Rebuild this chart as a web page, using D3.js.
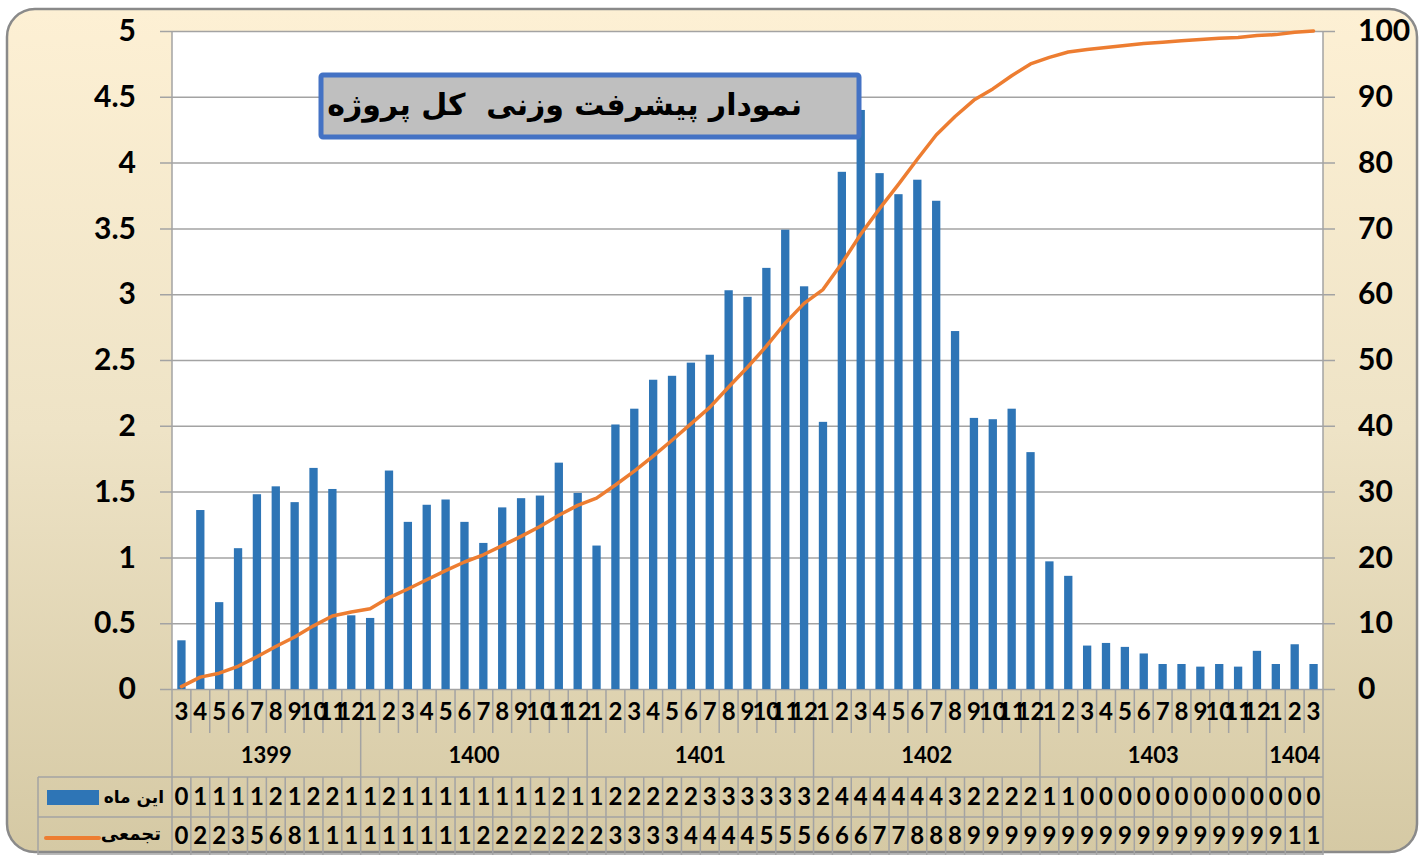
<!DOCTYPE html>
<html>
<head>
<meta charset="utf-8">
<script src="https://cdnjs.cloudflare.com/ajax/libs/d3/7.8.5/d3.min.js"></script>
<style>
body { margin: 0; background: #fff; }
svg { display: block; }
</style>
</head>
<body>
<script>
////////////////
// Data
////////////////

var yearLabels = ["1399", "1400", "1401", "1402", "1403", "1404"];
var yearMonths = [
    [3, 4, 5, 6, 7, 8, 9, 10, 11, 12],
    [1, 2, 3, 4, 5, 6, 7, 8, 9, 10, 11, 12],
    [1, 2, 3, 4, 5, 6, 7, 8, 9, 10, 11, 12],
    [1, 2, 3, 4, 5, 6, 7, 8, 9, 10, 11, 12],
    [1, 2, 3, 4, 5, 6, 7, 8, 9, 10, 11, 12],
    [1, 2, 3]
];

// monthly progress (%), one value per month
var monthly = [
    0.37, 1.36, 0.66, 1.07, 1.48, 1.54, 1.42, 1.68, 1.52, 0.56,
    0.54, 1.66, 1.27, 1.40, 1.44, 1.27, 1.11, 1.38, 1.45, 1.47, 1.72, 1.49,
    1.09, 2.01, 2.13, 2.35, 2.38, 2.48, 2.54, 3.03, 2.98, 3.20, 3.49, 3.06,
    2.03, 3.93, 4.40, 3.92, 3.76, 3.87, 3.71, 2.72, 2.06, 2.05, 2.13, 1.80,
    0.97, 0.86, 0.33, 0.35, 0.32, 0.27, 0.19, 0.19, 0.17, 0.19, 0.17, 0.29,
    0.19, 0.34, 0.19
];

// cumulative progress (%)
var cumulative = [
    0.37, 1.8, 2.4, 3.45, 4.9, 6.45, 7.9, 9.6, 11.1, 11.7,
    12.2, 13.9, 15.2, 16.6, 18.0, 19.3, 20.4, 21.8, 23.2, 24.7, 26.4, 27.9,
    29.0, 31.0, 33.1, 35.4, 37.8, 40.3, 42.8, 45.9, 48.9, 52.1, 55.6, 58.6,
    60.7, 64.7, 69.1, 73.0, 76.7, 80.5, 84.2, 87.0, 89.5, 91.2, 93.2, 95.0,
    96.0, 96.8, 97.2, 97.5, 97.8, 98.1, 98.3, 98.5, 98.7, 98.9, 99.0, 99.3,
    99.45, 99.8, 100
];

var leftTicks = [0, 0.5, 1, 1.5, 2, 2.5, 3, 3.5, 4, 4.5, 5];
var rightTicks = [0, 10, 20, 30, 40, 50, 60, 70, 80, 90, 100];

var title = "نمودار پیشرفت وزنی  کل پروژه";
var seriesNames = ["این ماه", "تجمعی"];

// flatten year/month groups into categories
var categories = [];
yearMonths.forEach(function(ms, yi) {
    ms.forEach(function(m) {
        categories.push({"year": yearLabels[yi], "yi": yi, "month": m});
    });
});

////////////////
// Layout
////////////////

var W = 1421, H = 855;
var plot = {left: 172, right: 1323, top: 31, bottom: 689};
var monthRowBottom = 733, yearRowBottom = 777, tableMid = 817, tableBottom = 855;
var legendLeft = 38;

var blue = "#2e75b6", orange = "#ed7d31", gridColor = "#a3a3a3";
var numFont = "Lato, 'DejaVu Sans', sans-serif";
var faFont = "'DejaVu Sans', sans-serif";

var svg = d3.select("body").append("svg")
    .attr("width", W)
    .attr("height", H);

var defs = svg.append("defs");
var grad = defs.append("linearGradient")
    .attr("id", "bg")
    .attr("x1", 0).attr("y1", 0).attr("x2", 0).attr("y2", 1);
grad.append("stop").attr("offset", "0%").attr("stop-color", "#fdf0d4");
grad.append("stop").attr("offset", "50%").attr("stop-color", "#eee3c6");
grad.append("stop").attr("offset", "100%").attr("stop-color", "#d5c9a4");

// outer frame
svg.append("rect")
    .attr("x", 7).attr("y", 9)
    .attr("width", 1410).attr("height", 843)
    .attr("rx", 28)
    .attr("fill", "url(#bg)")
    .attr("stroke", "#8a8a8a")
    .attr("stroke-width", 2.5);

// plot area
svg.append("rect")
    .attr("x", plot.left).attr("y", plot.top)
    .attr("width", plot.right - plot.left)
    .attr("height", plot.bottom - plot.top)
    .attr("fill", "#fff");

var x = d3.scaleBand()
    .domain(d3.range(categories.length))
    .range([plot.left, plot.right])
    .padding(0);

var yL = d3.scaleLinear().domain([0, 5]).range([plot.bottom, plot.top]);
var yR = d3.scaleLinear().domain([0, 100]).range([plot.bottom, plot.top]);

function cx(i) { return x(i) + x.bandwidth() / 2; }

// left axis + gridlines
var leftAxis = svg.append("g")
    .attr("transform", "translate(160,0)")
    .call(d3.axisLeft(yL)
        .tickValues(leftTicks)
        .tickSize(-(1335 - 160))
        .tickPadding(24)
        .tickFormat(function(d) { return String(d); }));
leftAxis.select(".domain").remove();
leftAxis.selectAll("line").attr("stroke", gridColor).attr("stroke-width", 1.5);
leftAxis.selectAll("text")
    .attr("font-family", numFont)
    .attr("font-weight", 700)
    .attr("font-size", 30)
    .attr("fill", "#000");

// right axis
var rightAxis = svg.append("g")
    .attr("transform", "translate(1335,0)")
    .call(d3.axisRight(yR)
        .tickValues(rightTicks)
        .tickSize(0)
        .tickPadding(23));
rightAxis.select(".domain").remove();
rightAxis.selectAll("text")
    .attr("font-family", numFont)
    .attr("font-weight", 700)
    .attr("font-size", 30)
    .attr("fill", "#000");

// bars
var barW = x.bandwidth() * 0.44;
svg.append("g").selectAll("rect")
    .data(monthly)
  .enter().append("rect")
    .attr("x", function(d, i) { return cx(i) - barW / 2; })
    .attr("y", function(d) { return yL(d); })
    .attr("width", barW)
    .attr("height", function(d) { return yL(0) - yL(d); })
    .attr("fill", blue);

// cumulative line
var line = d3.line()
    .x(function(d, i) { return cx(i); })
    .y(function(d) { return yR(d); });

svg.append("path")
    .datum(cumulative)
    .attr("d", line)
    .attr("fill", "none")
    .attr("stroke", orange)
    .attr("stroke-width", 3.5)
    .attr("stroke-linejoin", "round")
    .attr("stroke-linecap", "round");

// title box
svg.append("rect")
    .attr("x", 321).attr("y", 75)
    .attr("width", 538).attr("height", 62)
    .attr("rx", 2)
    .attr("fill", "#bfbfbf")
    .attr("stroke", "#4472c4")
    .attr("stroke-width", 5);

svg.append("text")
    .attr("x", 802).attr("y", 104)
    .attr("dy", "0.35em")
    .attr("text-anchor", "end")
    .attr("font-family", faFont)
    .attr("font-weight", 700)
    .attr("font-size", 30)
    .style("white-space", "pre")
    .text(title);

////////////////
// Category axis + data table
////////////////

var g = svg.append("g")
    .attr("stroke", gridColor)
    .attr("stroke-width", 1.5);

// axis lines through the whole chart
g.append("line")
    .attr("x1", plot.left).attr("x2", plot.left)
    .attr("y1", plot.top).attr("y2", tableBottom);
g.append("line")
    .attr("x1", plot.right).attr("x2", plot.right)
    .attr("y1", plot.top).attr("y2", tableBottom);

// boundaries between months; year boundaries run down through the year row
for (var i = 1; i < categories.length; i++) {
    var bx = x(i);
    var yearEdge = categories[i].yi != categories[i - 1].yi;
    g.append("line")
        .attr("x1", bx).attr("x2", bx)
        .attr("y1", plot.bottom)
        .attr("y2", yearEdge ? tableBottom : monthRowBottom);
    if (!yearEdge) {
        g.append("line")
            .attr("x1", bx).attr("x2", bx)
            .attr("y1", yearRowBottom).attr("y2", tableBottom);
    }
}

[yearRowBottom, tableMid, tableBottom - 1].forEach(function(yy) {
    g.append("line")
        .attr("x1", legendLeft).attr("x2", plot.right)
        .attr("y1", yy).attr("y2", yy);
});
g.append("line")
    .attr("x1", legendLeft).attr("x2", legendLeft)
    .attr("y1", yearRowBottom).attr("y2", tableBottom);

// month labels
svg.append("g").selectAll("text")
    .data(categories)
  .enter().append("text")
    .attr("x", function(d, i) { return cx(i); })
    .attr("y", 712)
    .attr("dy", "0.35em")
    .attr("text-anchor", "middle")
    .attr("font-family", numFont)
    .attr("font-weight", 700)
    .attr("font-size", 24)
    .text(function(d) { return d.month; });

// year labels, centred on their months
svg.append("g").selectAll("text")
    .data(yearLabels)
  .enter().append("text")
    .attr("x", function(d, yi) {
        var idx = categories.map(function(c, i) { return c.yi == yi ? i : -1; })
            .filter(function(v) { return v >= 0; });
        return (x(idx[0]) + x(idx[idx.length - 1]) + x.bandwidth()) / 2;
    })
    .attr("y", 755)
    .attr("dy", "0.35em")
    .attr("text-anchor", "middle")
    .attr("font-family", numFont)
    .attr("font-weight", 700)
    .attr("font-size", 22)
    .text(function(d) { return d; });

// Excel wraps numbers that don't fit the narrow cell; only the first line shows
function cellText(v) {
    var s = String(Math.round(v));
    return s.length > 1 ? s[0] : s;
}

var rows = [
    {"values": monthly, "y": 797},
    {"values": cumulative, "y": 836}
];

rows.forEach(function(r) {
    svg.append("g").selectAll("text")
        .data(r.values)
      .enter().append("text")
        .attr("x", function(d, i) { return cx(i); })
        .attr("y", r.y)
        .attr("dy", "0.35em")
        .attr("text-anchor", "middle")
        .attr("font-family", numFont)
        .attr("font-weight", 700)
        .attr("font-size", 24)
        .text(function(d) { return cellText(d); });
});

// legend keys in the table
svg.append("rect")
    .attr("x", 47).attr("y", 790)
    .attr("width", 52).attr("height", 15)
    .attr("fill", blue);

svg.append("line")
    .attr("x1", 46).attr("x2", 99)
    .attr("y1", 838).attr("y2", 838)
    .attr("stroke", orange)
    .attr("stroke-width", 4)
    .attr("stroke-linecap", "round");

svg.append("text")
    .attr("x", 164).attr("y", 797)
    .attr("dy", "0.35em")
    .attr("text-anchor", "end")
    .attr("font-family", faFont)
    .attr("font-weight", 700)
    .attr("font-size", 17)
    .text(seriesNames[0]);

svg.append("text")
    .attr("x", 161).attr("y", 834)
    .attr("dy", "0.35em")
    .attr("text-anchor", "end")
    .attr("font-family", faFont)
    .attr("font-weight", 700)
    .attr("font-size", 18)
    .text(seriesNames[1]);
</script>
</body>
</html>
